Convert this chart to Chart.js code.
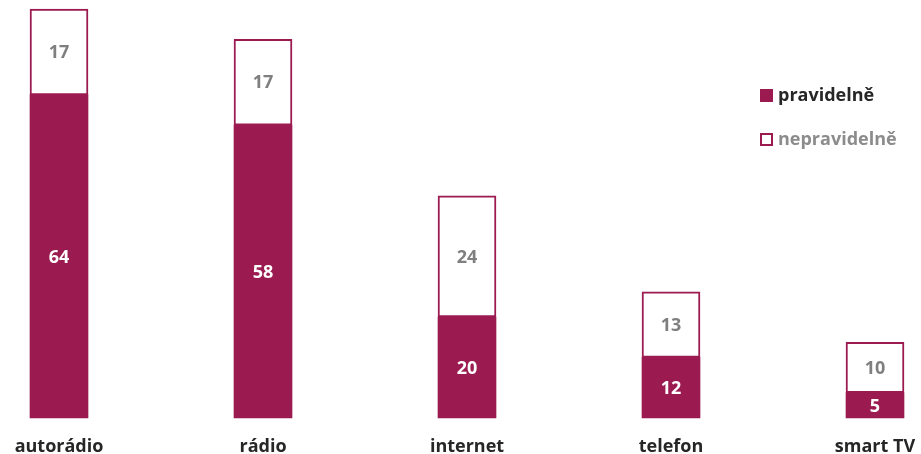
<!DOCTYPE html>
<html>
<head>
<meta charset="utf-8">
<script src="https://cdn.jsdelivr.net/npm/chart.js@4"></script>
<style>
  html, body { margin: 0; padding: 0; background: #fff; }
  #wrap { width: 921px; height: 454px; position: relative; }
</style>
</head>
<body>
<div id="wrap"><canvas id="mycanvas"></canvas></div>
<script>
var categories = ["autorádio", "rádio", "internet", "telefon", "smart TV"];
var pravidelne = [64, 58, 20, 12, 5];
var nepravidelne = [17, 17, 24, 13, 10];
var seriesNames = ["pravidelně", "nepravidelně"];

var purple = "#9b1b50";
var FONT = "'Open Sans', 'Noto Sans', sans-serif";

// values written in the middle of each segment
var valueLabels = {
	id: "valueLabels",
	afterDatasetsDraw: function(chart) {
		var ctx = chart.ctx;
		ctx.save();
		ctx.font = "bold 18px " + FONT;
		ctx.textAlign = "center";
		ctx.textBaseline = "middle";
		chart.data.datasets.forEach(function(ds, di) {
			var meta = chart.getDatasetMeta(di);
			meta.data.forEach(function(bar, i) {
				var mid = (bar.y + bar.base) / 2;
				ctx.fillStyle = di === 0 ? "#ffffff" : "#7f7f7f";
				ctx.fillText(ds.data[i], bar.x, mid + 1);
			});
		});
		ctx.restore();
	}
};

// legend drawn inside the plot, on the right
var sideLegend = {
	id: "sideLegend",
	afterDraw: function(chart) {
		var ctx = chart.ctx;
		ctx.save();
		ctx.font = "bold 18px " + FONT;
		ctx.textBaseline = "middle";
		ctx.textAlign = "left";
		var x = 760, ys = [96, 140];
		chart.data.datasets.forEach(function(ds, di) {
			var y = ys[di];
			if (di === 0) {
				ctx.fillStyle = purple;
				ctx.fillRect(x, y - 7, 13, 13);
			} else {
				ctx.fillStyle = "#fff";
				ctx.fillRect(x, y - 7, 13, 13);
				ctx.strokeStyle = purple;
				ctx.lineWidth = 2;
				ctx.strokeRect(x + 1, y - 6, 11, 11);
			}
			ctx.fillStyle = di === 0 ? "#262626" : "#8c8c8c";
			ctx.fillText(ds.label, x + 18, y);
		});
		ctx.restore();
	}
};

var chartdata = {
	labels: categories,
	datasets: [
		{
			label: seriesNames[0],
			data: pravidelne,
			backgroundColor: purple,
			borderColor: purple,
			borderWidth: 0,
			barThickness: 58,
			clip: false
		},
		{
			label: seriesNames[1],
			data: nepravidelne,
			backgroundColor: "#ffffff",
			borderColor: purple,
			borderWidth: 2,
			borderSkipped: false,
			barThickness: 58,
			clip: false
		}
	]
};

var ctx = document.getElementById("mycanvas");
var chart = new Chart(ctx, {
	type: "bar",
	data: chartdata,
	plugins: [valueLabels, sideLegend],
	options: {
		responsive: true,
		maintainAspectRatio: false,
		animation: false,
		layout: { padding: { left: 59, right: 46, top: 4, bottom: 0 } },
		plugins: {
			legend: { display: false },
			tooltip: { enabled: false }
		},
		scales: {
			x: {
				stacked: true,
				offset: false,
				grid: { display: false, drawTicks: false },
				border: { display: false },
				afterFit: function(scale) {
					scale.height = 36;
					scale.paddingLeft = 0;
					scale.paddingRight = 0;
				},
				ticks: {
					padding: 18,
					color: "#262626",
					font: { family: FONT, size: 18, weight: "bold" }
				}
			},
			y: {
				stacked: true,
				display: false,
				min: 0,
				max: 82
			}
		}
	}
});
</script>
</body>
</html>
